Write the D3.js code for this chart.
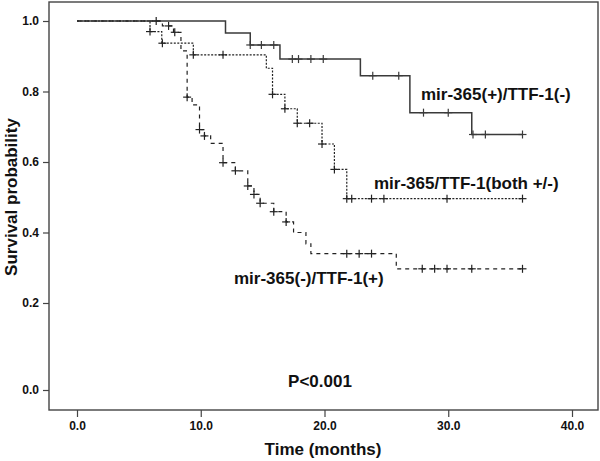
<!DOCTYPE html>
<html>
<head>
<meta charset="utf-8">
<script src="https://cdn.jsdelivr.net/npm/d3@7"></script>
<style>
  html, body { margin: 0; padding: 0; background: #fff; }
  svg { display: block; font-family: "Liberation Sans", Arial, sans-serif; }
</style>
</head>
<body>
<svg id="chart" width="600" height="461"></svg>
<script>
// ---- data ----
const groupNames = ["mir-365(+)/TTF-1(-)", "mir-365/TTF-1(both +/-)", "mir-365(-)/TTF-1(+)"];

// group A: mir-365(+)/TTF-1(-)  (solid)
const timesA  = [0, 12, 14, 16.4, 22.9, 26.9, 31.9];
const survA   = [1.0, 0.966, 0.932, 0.892, 0.845, 0.740, 0.678];
const censorA = [14, 14.9, 15.9, 17.4, 17.9, 18.9, 19.9, 23.9, 26, 28, 30, 32, 33, 36];

// group B: mir-365/TTF-1(both +/-)  (dotted)
const timesB  = [0, 5.9, 6.85, 9.4, 15.3, 15.8, 16.8, 17.8, 19.8, 20.8, 21.8];
const survB   = [1.0, 0.970, 0.937, 0.904, 0.866, 0.792, 0.751, 0.710, 0.651, 0.579, 0.496];
const censorB = [5.9, 6.9, 9.4, 11.8, 15.8, 16.8, 17.8, 18.8, 19.8, 20.8, 21.8, 22.2, 23.8, 24.8, 29.9, 36];

// group C: mir-365(-)/TTF-1(+)  (dashed)
const timesC  = [0, 6.9, 7.8, 8.4, 8.9, 9.3, 9.9, 10.3, 10.8, 11.8, 12.8, 13.8, 14.3, 14.8, 15.9, 16.9, 17.5, 18.5, 18.9, 25.8];
const survC   = [1.0, 0.986, 0.968, 0.915, 0.784, 0.762, 0.692, 0.674, 0.653, 0.598, 0.575, 0.532, 0.508, 0.483, 0.459, 0.430, 0.400, 0.368, 0.340, 0.297];
const censorC = [6.4, 7.4, 7.9, 8.9, 9.9, 10.3, 11.8, 12.8, 13.8, 14.3, 14.8, 15.9, 16.9, 21.8, 22.8, 23.8, 27.9, 28.9, 29.9, 31.9, 36];

const xTicks = [0, 10, 20, 30, 40];
const yTicks = [0, 0.2, 0.4, 0.6, 0.8, 1.0];
const maxTime = 36;

// ---- drawing ----
const svg = d3.select("#chart");
const frame = {left: 49, top: 2, right: 598, bottom: 410};

const x = d3.scaleLinear().domain([0, 40]).range([77, 572]);
const y = d3.scaleLinear().domain([0, 0.2, 1.0]).range([390, 303, 21]);

svg.append("rect")
  .attr("x", frame.left).attr("y", frame.top)
  .attr("width", frame.right - frame.left).attr("height", frame.bottom - frame.top)
  .attr("fill", "none").attr("stroke", "#444").attr("stroke-width", 1.4);

const yAxis = svg.append("g")
  .attr("transform", `translate(${frame.left},0)`)
  .call(d3.axisLeft(y).tickValues(yTicks).tickFormat(d3.format(".1f")).tickSize(6).tickPadding(4));
const xAxis = svg.append("g")
  .attr("transform", `translate(0,${frame.bottom})`)
  .call(d3.axisBottom(x).tickValues(xTicks).tickFormat(d3.format(".1f")).tickSize(7).tickPadding(4));
[yAxis, xAxis].forEach(g => {
  g.select(".domain").remove();
  g.selectAll("line").attr("stroke", "#444").attr("stroke-width", 1.2);
  g.selectAll("text").attr("font-size", 12).attr("font-weight", "bold").attr("fill", "#111")
    .attr("font-family", "'Liberation Sans', Arial, sans-serif");
});

const groups = [
  {times: timesA, surv: survA, censor: censorA, dash: null, color: "#3a3a3a", width: 1.5},
  {times: timesB, surv: survB, censor: censorB, dash: "2,1.5", color: "#222", width: 1.2},
  {times: timesC, surv: survC, censor: censorC, dash: "4,4", color: "#222", width: 1.2}
];

const line = d3.line().x(d => x(d[0])).y(d => y(d[1])).curve(d3.curveStepAfter);

groups.forEach(g => {
  const pts = g.times.map((t, i) => [t, g.surv[i]]);
  pts.push([maxTime, g.surv[g.surv.length - 1]]);
  svg.append("path")
    .attr("d", line(pts))
    .attr("fill", "none")
    .attr("stroke", g.color)
    .attr("stroke-width", g.width)
    .attr("stroke-dasharray", g.dash);

  const survAt = t => {
    let s = g.surv[0];
    g.times.forEach((tt, i) => { if (tt <= t + 1e-9) s = g.surv[i]; });
    return s;
  };
  const marks = svg.append("g");
  g.censor.forEach(t => {
    const cx = x(t), cy = y(survAt(t));
    marks.append("line").attr("x1", cx - 4).attr("x2", cx + 4).attr("y1", cy).attr("y2", cy)
      .attr("stroke", g.color).attr("stroke-width", 1.2);
    marks.append("line").attr("x1", cx).attr("x2", cx).attr("y1", cy - 4).attr("y2", cy + 4)
      .attr("stroke", g.color).attr("stroke-width", 1.2);
  });
});

const textStyle = sel => sel.attr("font-size", 17).attr("font-weight", "bold").attr("fill", "#111");

textStyle(svg.append("text").attr("x", 421).attr("y", 100).text(groupNames[0]));
textStyle(svg.append("text").attr("x", 374).attr("y", 189).text(groupNames[1]));
textStyle(svg.append("text").attr("x", 234).attr("y", 284).text(groupNames[2]));
textStyle(svg.append("text").attr("x", 320).attr("y", 387).attr("text-anchor", "middle").text("P<0.001"));
textStyle(svg.append("text").attr("x", 323).attr("y", 455).attr("text-anchor", "middle").text("Time (months)"));
textStyle(svg.append("text").attr("transform", "translate(17,197) rotate(-90)").attr("text-anchor", "middle").text("Survival probability"));
</script>
</body>
</html>
